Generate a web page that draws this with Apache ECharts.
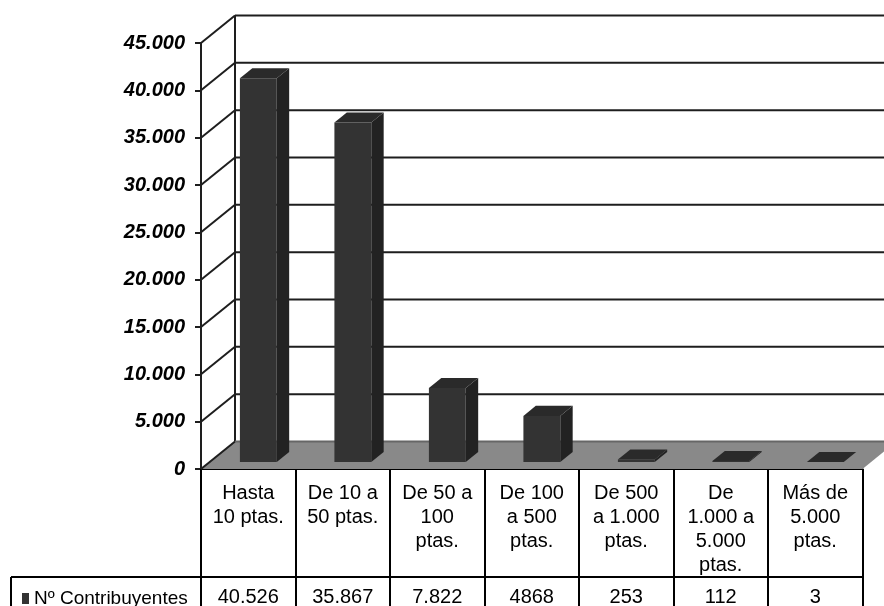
<!DOCTYPE html>
<html><head><meta charset="utf-8">
<script src="https://cdn.jsdelivr.net/npm/echarts@6/dist/echarts.min.js"></script>
<style>html,body{margin:0;padding:0;background:#fff}#c{width:884px;height:606px}</style>
</head><body><div id="c"></div>
<script>
const categories = ['Hasta\n10 ptas.', 'De 10 a\n50 ptas.', 'De 50 a\n100\nptas.', 'De 100\na 500\nptas.', 'De 500\na 1.000\nptas.', 'De\n1.000 a\n5.000\nptas.', 'Más de\n5.000\nptas.'];
const seriesName = 'Nº Contribuyentes';
const contribuyentes = [40526, 35867, 7822, 4868, 253, 112, 3];
const valueLabels = ['40.526', '35.867', '7.822', '4868', '253', '112', '3'];
const yTicks = [0, 5000, 10000, 15000, 20000, 25000, 30000, 35000, 40000, 45000];
const yTickLabels = ['0', '5.000', '10.000', '15.000', '20.000', '25.000', '30.000', '35.000', '40.000', '45.000'];

const FONT = "'Liberation Sans', Arial, sans-serif";
const DX = 34, DY = 27.5;
const LINE = '#1e1e1e';

function renderFrame(params, api) {
  const v = api.value(1);
  const cs = params.coordSys;
  const y = api.coord([0, v])[1];
  const x0 = cs.x, x1 = cs.x + cs.width;
  const children = [];
  if (v === 0) {
    children.push({type: 'polygon', shape: {points: [[x0, y], [x1, y], [x1 + DX, y - DY], [x0 + DX, y - DY]]}, style: {fill: '#898989'}});
    children.push({type: 'line', shape: {x1: x0 + DX, y1: y - DY, x2: x0 + DX, y2: cs.y - DY}, style: {stroke: LINE, lineWidth: 2}});
  }
  children.push({type: 'line', shape: {x1: x0, y1: y, x2: x0 + DX, y2: y - DY}, style: {stroke: LINE, lineWidth: 2}});
  children.push({type: 'line', shape: {x1: x0 + DX, y1: y - DY, x2: x1 + DX + 60, y2: y - DY}, style: {stroke: v === 0 ? '#666666' : LINE, lineWidth: 2}});
  return {type: 'group', children};
}

function renderBar(params, api) {
  const i = api.value(0), v = api.value(1);
  const p0 = api.coord([i, 0]), p1 = api.coord([i, v]);
  const bw = api.size([1, 0])[0];
  const t0 = 0.255, t1 = 0.62;
  const xl = p0[0] - 0.18 * bw + DX * t0, xr = xl + 0.39 * bw;
  const yb = p0[1] - DY * t0, yt = p1[1] - DY * t0;
  const ddx = DX * (t1 - t0), ddy = DY * (t1 - t0);
  return {type: 'group', children: [
    {type: 'polygon', shape: {points: [[xr, yb], [xr + ddx, yb - ddy], [xr + ddx, yt - ddy], [xr, yt]]}, style: {fill: '#222222'}},
    {type: 'rect', shape: {x: xl, y: yt, width: xr - xl, height: yb - yt}, style: {fill: '#333333'}},
    {type: 'polygon', shape: {points: [[xl, yt], [xr, yt], [xr + ddx, yt - ddy], [xl + ddx, yt - ddy]]}, style: {fill: '#2a2a2a'}}
  ]};
}

const chart = echarts.init(document.getElementById('c'), null, {renderer: 'canvas'});
chart.setOption({
  animation: false,
  backgroundColor: '#ffffff',
  grid: {left: 201, right: 21.5, top: 43, bottom: 137, containLabel: false, outerBoundsMode: 'none'},
  legend: {
    data: [seriesName], left: 17, top: 584, icon: 'rect', itemWidth: 7, itemHeight: 11,
    textStyle: {fontSize: 19, color: '#000', fontFamily: FONT}
  },
  xAxis: [{
    type: 'category', data: categories,
    axisLine: {show: true, lineStyle: {color: '#000', width: 2}},
    axisTick: {show: true, interval: 0, length: 108, lineStyle: {color: '#000', width: 2}},
    axisLabel: {interval: 0, fontSize: 20, lineHeight: 24, margin: 12, color: '#000', fontFamily: FONT},
    splitLine: {show: false}
  }, {
    type: 'category', data: valueLabels, position: 'bottom', offset: 108,
    axisLine: {show: true, lineStyle: {color: '#000', width: 2}},
    axisTick: {show: true, interval: 0, length: 40, lineStyle: {color: '#000', width: 2}},
    axisLabel: {interval: 0, fontSize: 20, lineHeight: 22, margin: 9, color: '#000', fontFamily: FONT},
    splitLine: {show: false}
  }],
  yAxis: {
    type: 'value', min: 0, max: 45000, interval: 5000,
    axisLine: {show: true, lineStyle: {color: LINE, width: 2}},
    axisTick: {show: true, length: 6, lineStyle: {color: LINE, width: 2}},
    splitLine: {show: false},
    axisLabel: {
      margin: 16, fontSize: 20, fontWeight: 'bold', fontStyle: 'italic', color: '#000', fontFamily: FONT,
      formatter: v => yTickLabels[yTicks.indexOf(v)]
    }
  },
  graphic: [
    {type: 'line', shape: {x1: 11, y1: 577, x2: 201, y2: 577}, style: {stroke: '#000', lineWidth: 2}},
    {type: 'line', shape: {x1: 11, y1: 577, x2: 11, y2: 620}, style: {stroke: '#000', lineWidth: 2}}
  ],
  series: [{
    type: 'custom', name: 'frame', z: 1, silent: true,
    data: yTicks.map(v => [0, v]), encode: {x: 0, y: 1},
    renderItem: renderFrame
  }, {
    type: 'custom', name: seriesName, z: 3,
    itemStyle: {color: '#333333'},
    data: contribuyentes.map((v, i) => [i, v]), encode: {x: 0, y: 1},
    renderItem: renderBar
  }]
});
</script></body></html>
